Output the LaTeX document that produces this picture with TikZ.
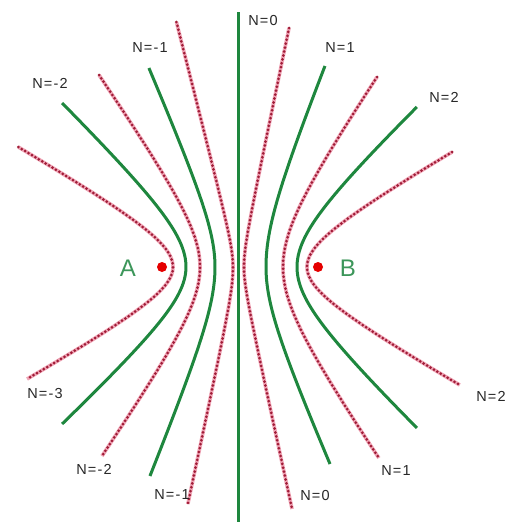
\documentclass[tikz,border=0pt]{standalone}
\usepackage{fontspec}
\newfontfamily\labfont[LetterSpace=8]{Liberation Sans}
\newfontfamily\ptfont{Liberation Sans}
\definecolor{grn}{RGB}{30,135,62}
\definecolor{ptgrn}{RGB}{60,150,90}
\definecolor{dotc}{RGB}{160,28,55}
\definecolor{pinkc}{RGB}{240,165,182}
\definecolor{labc}{RGB}{40,40,40}
\tikzset{
  greenline/.style={draw=grn, line width=3pt},
  redline/.style={preaction={draw=pinkc, line width=3.6pt, solid},
                  draw=dotc, line width=3pt, line cap=round, dash pattern=on 0pt off 4pt},
  nlab/.style={text=labc, font=\labfont\fontsize{14.5}{14.5}\selectfont, inner sep=0pt},
  ptlab/.style={text=ptgrn, font=\ptfont\fontsize{24}{24}\selectfont, inner sep=0pt},
  focus/.style={circle, fill=red!90!black, minimum size=10pt, inner sep=0pt}
}
% hyperbola branch: style, side, a, b above, top extent, b below, bottom extent
\newcommand{\hbr}[7]{%
  \draw[#1] plot[domain=-#5:#7, samples=90, smooth, variable=\t]
    ({239 + (#2)*(#3)*sqrt(1+(\t/(\t<0 ? #4 : #6))^2)}, {267+\t});}
\begin{document}
\begin{tikzpicture}[x=1pt, y=-1pt]
\useasboundingbox (0,0) rectangle (525,522);
\fill[white] (0,0) rectangle (525,522);
% center line
\coordinate (ctop) at (238,12);
\coordinate (cbot) at (238,522);
\draw[greenline] (ctop) -- (cbot);
% left branches
\hbr{redline}{-1}{66}{37.6}{120}{36.7}{112}
\hbr{greenline}{-1}{53}{51.5}{164}{49.3}{157}
\hbr{redline}{-1}{39}{55.7}{192}{56.1}{189}
\hbr{greenline}{-1}{24}{55}{199}{58.5}{209}
\hbr{redline}{-1}{6}{23.6}{245}{28}{237}
% right branches
\hbr{redline}{1}{5}{24}{239}{22.9}{242}
\hbr{greenline}{1}{27}{66.5}{201}{61.2}{197}
\hbr{redline}{1}{44}{63.9}{190}{63.3}{191}
\hbr{greenline}{1}{58}{55.2}{160}{55.5}{161}
\hbr{redline}{1}{68}{38.7}{115}{38.2}{118}
% foci
\node[focus] (fa) at (162,267) {};
\node[focus] (fb) at (318,267) {};
\node[ptlab] (la) at (128,268) {A};
\node[ptlab] (lb) at (348,268) {B};
% top labels
\node[nlab] (t1) at (50,83) {N=-2};
\node[nlab] (t2) at (150,48) {N=-1};
\node[nlab] (t3) at (263,21) {N=0};
\node[nlab] (t4) at (340,48) {N=1};
\node[nlab] (t5) at (444,97) {N=2};
% bottom labels
\node[nlab] (b1) at (45,394) {N=-3};
\node[nlab] (b2) at (94,469) {N=-2};
\node[nlab] (b3) at (172,495) {N=-1};
\node[nlab] (b4) at (315,496) {N=0};
\node[nlab] (b5) at (396,471) {N=1};
\node[nlab] (b6) at (491,396) {N=2};
\end{tikzpicture}
\end{document}
